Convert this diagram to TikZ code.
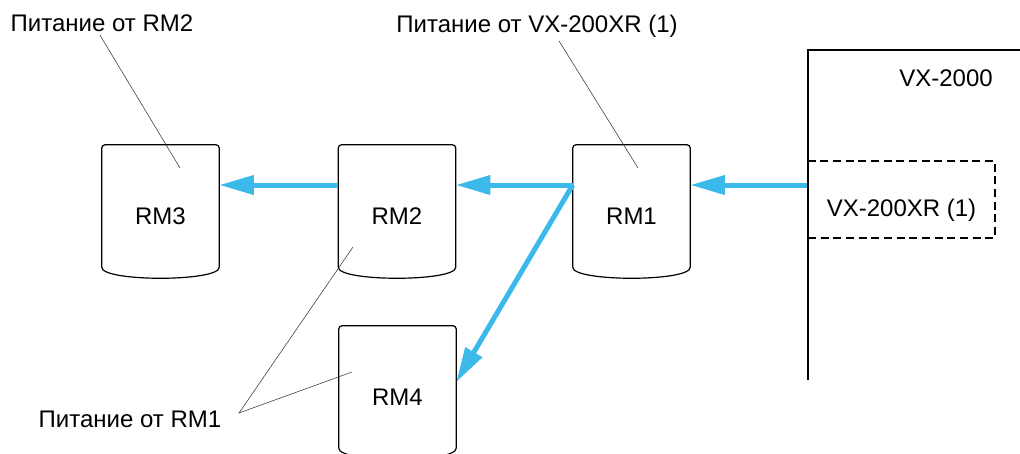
\documentclass[tikz,border=0pt]{standalone}
\usepackage{fontspec}
\setmainfont{Liberation Sans}
\usepackage{xcolor}
\usepackage{tikz}
\usetikzlibrary{arrows.meta}
\definecolor{feedblue}{RGB}{60, 185, 235}

\begin{document}
\begin{tikzpicture}[x=0.75pt, y=-0.75pt, font=\fontsize{18pt}{21pt}\selectfont,
  rm/.style={minimum width=87.75pt, minimum height=91.5pt, inner sep=0pt, text height=28pt, text depth=0pt},
  note/.style={inner sep=2pt, anchor=base},
  feed/.style={-{Triangle[length=26pt, width=14pt]}, line width=3.75pt, feedblue},
  leader/.style={line width=0.4pt, black!80}]
\clip (0,0) rectangle (1020,453);

\node[rm] (rm3) at (160.5,206) {RM3};
\node[rm] (rm2) at (397,206) {RM2};
\node[rm] (rm1) at (631.5,206) {RM1};
\node[rm] (rm4) at (397.5,387) {RM4};

% outline of the remote units
\foreach \n in {rm1,rm2,rm3,rm4}{
  \draw[line width=0.9pt, rounded corners=2.5pt] (\n.south west) -- (\n.north west) -- (\n.north east) -- (\n.south east);
  \draw[line width=0.9pt] (\n.south east) .. controls ([yshift=-11pt]\n.south east) and ([yshift=-11pt]\n.south west) .. (\n.south west);
}

% main unit
\draw[line width=0.9pt] (1020,50) -- (808,50) -- (808,380);
\node[note] (vx) at (946,87) {VX-2000};
\node[draw, dashed, dash pattern=on 6pt off 3.5pt, line width=0.8pt, minimum width=140.25pt, minimum height=57.75pt,
  inner sep=0pt, text height=25pt, text depth=0pt] (vxr) at (901.5,199.5) {VX-200XR (1)};

\coordinate (lvl) at (0,185);
\draw[feed] (vxr.west |- lvl) -- (rm1.east |- lvl);
\draw[feed] (rm1.west |- lvl) -- (rm2.east |- lvl);
\draw[feed] (rm2.west |- lvl) -- (rm3.east |- lvl);
\draw[feed] (rm1.west |- lvl) -- ([yshift=3.75pt]rm4.east);

% labels
\node[note] (fromrm2) at (102,32) {Питание от RM2};
\node[note] (fromvx) at (537,33) {Питание от VX-200XR (1)};
\node[note] (fromrm1) at (130,427) {Питание от RM1};
\coordinate (fork) at (239,413);

\draw[leader] ([xshift=-1.5pt]fromrm2.south) -- (180,168);
\draw[leader] ([xshift=16.5pt]fromvx.south) -- (638,168);
\draw[leader] (353,247) -- (fork) -- (352,372);
\end{tikzpicture}
\end{document}
